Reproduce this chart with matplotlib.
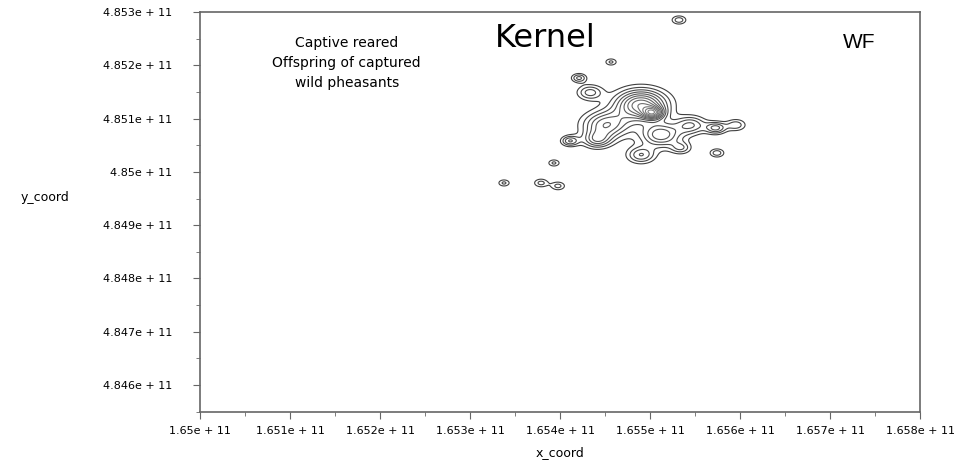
import numpy as np
import matplotlib.pyplot as plt
from matplotlib.ticker import FuncFormatter, MultipleLocator

# composantes du noyau : centre (x, y), poids et largeur
blob_x = [1.655033e11, 1.654900e11, 1.654511e11, 1.655122e11, 1.654900e11, 1.654411e11,
          1.655455e11, 1.655733e11, 1.655955e11, 1.655744e11, 1.654111e11, 1.654211e11,
          1.654333e11, 1.655344e11,
          1.654567e11, 1.655322e11, 1.653933e11, 1.653789e11, 1.653978e11, 1.653378e11]
blob_y = [4.851105e11, 4.851256e11, 4.850880e11, 4.850693e11, 4.850317e11, 4.850599e11,
          4.850880e11, 4.850824e11, 4.850880e11, 4.850355e11, 4.850580e11, 4.851762e11,
          4.851490e11, 4.850449e11,
          4.852062e11, 4.852850e11, 4.850167e11, 4.849792e11, 4.849736e11, 4.849792e11]
blob_w = [0.45, 0.6, 0.4, 0.4, 0.28, 0.28,
          0.28, 0.3, 0.2, 0.2, 0.28, 0.24,
          0.25, 0.2,
          0.17, 0.2, 0.17, 0.18, 0.18, 0.17]
blob_s = [8e6, 2.0e7, 1.8e7, 1.6e7, 1.1e7, 1.1e7,
          1.2e7, 8e6, 8e6, 6e6, 7e6, 6e6,
          1.0e7, 8e6,
          5e6, 6e6, 5e6, 6e6, 6e6, 5e6]

x_ticks = np.arange(1.650e11, 1.6581e11, 1e8)
y_ticks = np.arange(4.846e11, 4.8531e11, 1e8)

x = np.linspace(1.6525e11, 1.6565e11, 700)
y = np.linspace(4.8490e11, 4.8531e11, 700)
X, Y = np.meshgrid(x, y)
Z = np.zeros_like(X)
for bx, by, bw, bs in zip(blob_x, blob_y, blob_w, blob_s):
    Z += bw * np.exp(-((X - bx) ** 2 + (Y - by) ** 2) / (2 * bs ** 2))

levels = np.arange(0.09, 1.8, 0.065)
cols = [str(c) for c in np.linspace(0.25, 0.85, len(levels))]

fig = plt.figure(figsize=(9.66, 4.62), dpi=100)
ax = fig.add_axes([200 / 966, 50 / 462, 720 / 966, 400 / 462])
ax.contour(X, Y, Z, levels=levels, colors=cols, linewidths=0.8)

ax.set_xlim(1.650e11, 1.658e11)
ax.set_ylim(4.845494e11, 4.853e11)
fmt = FuncFormatter(lambda v, p: f"{round(v / 1e11, 4):g}e + 11")
ax.xaxis.set_major_formatter(fmt)
ax.yaxis.set_major_formatter(fmt)
ax.set_xticks(x_ticks)
ax.set_yticks(y_ticks)
ax.xaxis.set_minor_locator(MultipleLocator(5e7))
ax.yaxis.set_minor_locator(MultipleLocator(5e7))
ax.tick_params(which='major', length=5, color='#666666', labelsize=8)
ax.tick_params(which='minor', length=3, color='#666666')
ax.tick_params(axis='y', which='major', pad=15)
ax.tick_params(axis='x', which='major', pad=5)
for s in ax.spines.values():
    s.set_color('#666666')
    s.set_linewidth(1.2)

ax.set_xlabel("x_coord", fontsize=9, labelpad=7)
fig.text(45 / 966, 1 - 198 / 462, "y_coord", fontsize=9, ha='center', va='center')

ax.text(1.65163e11, 4.852043e11, "Captive reared\nOffspring of captured\nwild pheasants",
        ha='center', va='center', fontsize=10, linespacing=1.55)
ax.text(1.653833e11, 4.852512e11, "Kernel", ha='center', va='center', fontsize=23)
ax.text(1.657322e11, 4.852437e11, "WF", ha='center', va='center', fontsize=15,
        family='Liberation Sans')

plt.savefig("out.png", dpi=100)
